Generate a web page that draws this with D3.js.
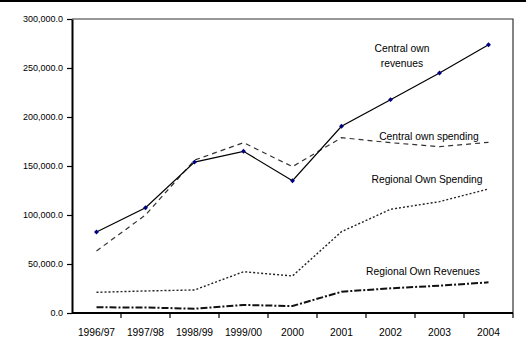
<!DOCTYPE html>
<html>
<head>
<meta charset="utf-8">
<script src="https://cdn.jsdelivr.net/npm/d3@7"></script>
<style>
  html, body { margin: 0; padding: 0; background: #fff; }
  svg { display: block; font-family: "Liberation Sans", Arial, sans-serif; }
</style>
</head>
<body>
<svg id="chart" width="526" height="349"></svg>
<script>
// Fiscal years on the horizontal axis
const years = ["1996/97", "1997/98", "1998/99", "1999/00", "2000", "2001", "2002", "2003", "2004"];

// Series values
const centralOwnRevenues = [82700, 107400, 154000, 165000, 135000, 190500, 217700, 244900, 273800];
const centralOwnSpending = [63300, 100000, 156000, 173800, 149300, 178900, 173800, 169700, 174200];
const regionalOwnSpending = [21100, 22500, 23500, 42100, 37800, 83000, 105800, 113600, 126500];
const regionalOwnRevenues = [5800, 5600, 4400, 8200, 7100, 21700, 25200, 27900, 31300];

// Value axis ticks
const yTicks = [0, 50000, 100000, 150000, 200000, 250000, 300000];

const svg = d3.select("#chart");
const W = 526, H = 349;
const m = { left: 72, right: 13, top: 19, bottom: 36 };

// thin black band along the top edge
svg.append("rect").attr("x", 0).attr("y", 0).attr("width", W).attr("height", 2).attr("fill", "#000");

const x = d3.scaleBand().domain(years).range([m.left, W - m.right]).paddingInner(0).paddingOuter(0);
const y = d3.scaleLinear().domain([0, 300000]).range([H - m.bottom, m.top]);
const cx = d => x(d) + x.bandwidth() / 2;

// plot frame (top and right)
svg.append("path")
  .attr("d", `M${m.left},${m.top}H${W - m.right}V${H - m.bottom}`)
  .attr("fill", "none").attr("stroke", "#333").attr("stroke-width", 1.2);

// y axis
const fmt = d3.format(",.1f");
const yAxis = svg.append("g").attr("transform", `translate(${m.left},0)`)
  .call(d3.axisLeft(y).tickValues(yTicks).tickFormat(fmt).tickSize(5).tickSizeOuter(0).tickPadding(4));
yAxis.select(".domain").attr("stroke", "#000").attr("stroke-width", 2);
yAxis.selectAll(".tick line").attr("stroke", "#000").attr("stroke-width", 1.2);
yAxis.selectAll("text").attr("font-size", 9).attr("fill", "#000").attr("font-family", "Liberation Sans, Arial, sans-serif");

// x axis with ticks on category boundaries
const xAxis = svg.append("g").attr("transform", `translate(0,${H - m.bottom})`);
xAxis.append("line").attr("x1", m.left).attr("x2", W - m.right).attr("y1", 0).attr("y2", 0)
  .attr("stroke", "#000").attr("stroke-width", 2);
xAxis.selectAll("line.tk").data(years).enter().append("line").attr("class", "tk")
  .attr("x1", d => x(d) + x.bandwidth()).attr("x2", d => x(d) + x.bandwidth())
  .attr("y1", 0).attr("y2", 5).attr("stroke", "#000").attr("stroke-width", 1.2);
xAxis.selectAll("text").data(years).enter().append("text")
  .attr("x", d => cx(d)).attr("y", 23).attr("text-anchor", "middle")
  .attr("font-size", 10.3).attr("fill", "#000").text(d => d);

const line = d3.line().x((d, i) => cx(years[i])).y(d => y(d));

// Regional own revenues: heavy dash-dot
svg.append("path").datum(regionalOwnRevenues).attr("d", line)
  .attr("fill", "none").attr("stroke", "#111").attr("stroke-width", 2)
  .attr("stroke-dasharray", "7,2,2,2");

// Regional own spending: dotted
svg.append("path").datum(regionalOwnSpending).attr("d", line)
  .attr("fill", "none").attr("stroke", "#222").attr("stroke-width", 1.4)
  .attr("stroke-dasharray", "2,2");

// Central own spending: dashed
svg.append("path").datum(centralOwnSpending).attr("d", line)
  .attr("fill", "none").attr("stroke", "#333").attr("stroke-width", 1.2)
  .attr("stroke-dasharray", "5,4");

// Central own revenues: solid with diamond markers
svg.append("path").datum(centralOwnRevenues).attr("d", line)
  .attr("fill", "none").attr("stroke", "#000").attr("stroke-width", 1.2);
svg.selectAll("path.mk").data(centralOwnRevenues).enter().append("path").attr("class", "mk")
  .attr("d", d3.symbol().type(d3.symbolSquare).size(12))
  .attr("transform", (d, i) => `translate(${cx(years[i])},${y(d)}) rotate(45)`)
  .attr("fill", "#000080");

// series labels
const labels = [
  { lines: ["Central own", "revenues"], x: 402, y: 52 },
  { lines: ["Central own spending"], x: 429, y: 140 },
  { lines: ["Regional Own Spending"], x: 427, y: 183 },
  { lines: ["Regional Own Revenues"], x: 423, y: 275 }
];
labels.forEach(l => {
  const t = svg.append("text").attr("text-anchor", "middle").attr("font-size", 10.3).attr("fill", "#000");
  l.lines.forEach((s, i) => t.append("tspan").attr("x", l.x).attr("y", l.y + i * 15).text(s));
});
</script>
</body>
</html>
